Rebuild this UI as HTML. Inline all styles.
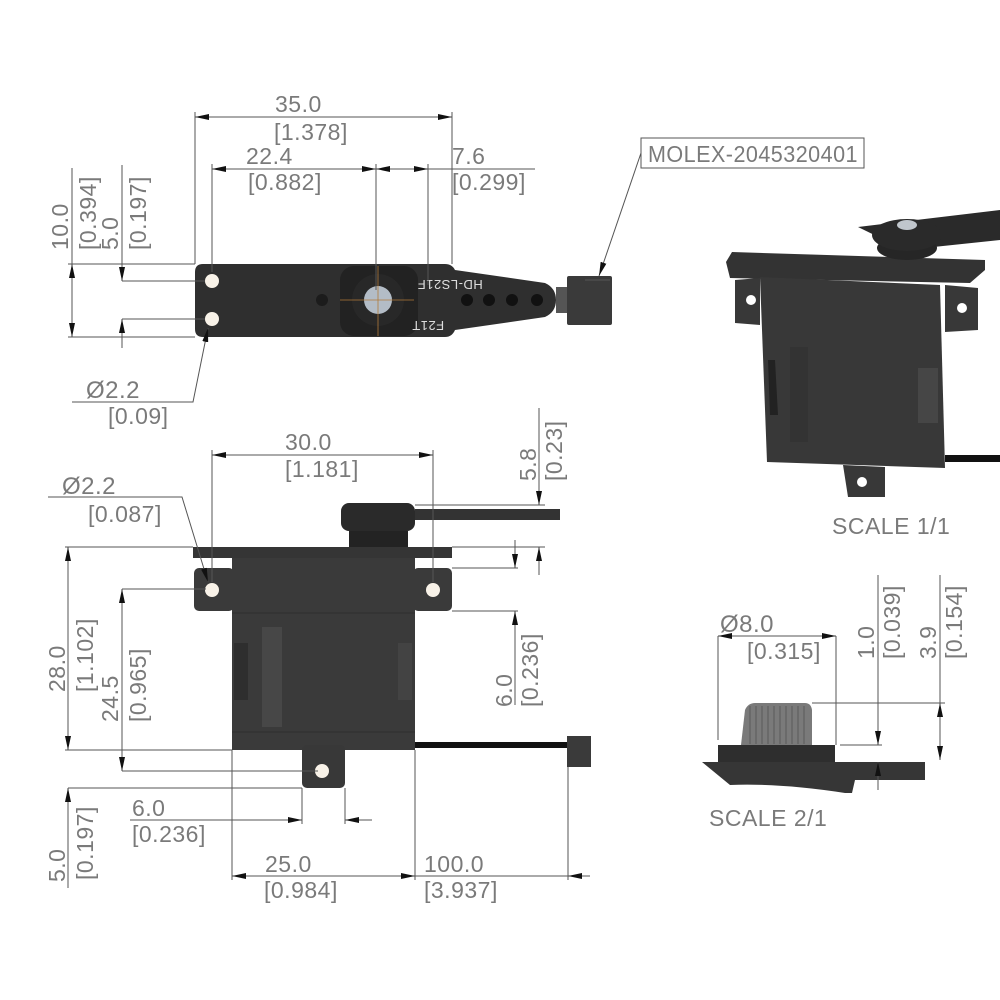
<!DOCTYPE html>
<html><head><meta charset="utf-8"><style>
html,body{margin:0;padding:0;background:#fff;}
svg{display:block;}
text{font-family:"Liberation Sans Narrow","Liberation Sans",sans-serif;font-size:23px;fill:#7a7a7a;letter-spacing:0.5px;}
.l{stroke:#555;stroke-width:1;fill:none;}
</style></head><body>
<svg width="1000" height="1000" viewBox="0 0 1000 1000" xmlns="http://www.w3.org/2000/svg">
<defs>
<marker id="a" viewBox="0 0 14 6" refX="14" refY="3" markerWidth="14" markerHeight="6" orient="auto-start-reverse" markerUnits="userSpaceOnUse"><path d="M0,0 L14,3 L0,6 Z" fill="#111"/></marker>
</defs>

<!-- ========== TOP VIEW ========== -->
<path d="M203,264 L445,264 Q452,264 455,270 L545,283 Q556,288 556,300 Q556,312 545,317 L455,330 Q452,337 445,337 L203,337 Q195,337 195,329 L195,272 Q195,264 203,264 Z" fill="#2f2f2f"/>
<rect x="340" y="266" width="78" height="70" rx="14" fill="#222"/>
<circle cx="378" cy="300" r="26" fill="#282828"/>
<circle cx="378" cy="300" r="14" fill="#b3bcc6"/>
<line x1="340" y1="300" x2="414" y2="300" stroke="#b07a3a" stroke-width="0.8"/>
<line x1="378" y1="266" x2="378" y2="336" stroke="#b07a3a" stroke-width="0.8"/>
<circle cx="212" cy="281" r="7" fill="#f8f2e8"/>
<circle cx="212" cy="319" r="7" fill="#f8f2e8"/>
<circle cx="322" cy="300" r="6" fill="#1c1c1c"/>
<circle cx="467" cy="300" r="6" fill="#111"/>
<circle cx="489" cy="300" r="6" fill="#111"/>
<circle cx="512" cy="300" r="6" fill="#111"/>
<circle cx="537" cy="300" r="6" fill="#111"/>
<text x="450" y="280" transform="rotate(180 450 280)" style="fill:#ddd;font-size:13px;letter-spacing:0.5px" text-anchor="middle">HD-LS21F</text>
<text x="428" y="329" transform="rotate(180 428 325)" style="fill:#ddd;font-size:13px;letter-spacing:0.5px" text-anchor="middle">F21T</text>
<rect x="556" y="287" width="12" height="26" fill="#555"/>
<rect x="567" y="276" width="45" height="49" rx="2" fill="#3a3a3a"/>
<line x1="585" y1="280" x2="610" y2="280" stroke="#555"/>

<!-- top dims -->
<line class="l" x1="195" y1="112" x2="195" y2="264"/>
<line class="l" x1="452" y1="112" x2="452" y2="264"/>
<line class="l" x1="195" y1="117" x2="452" y2="117" marker-start="url(#a)" marker-end="url(#a)"/>
<text x="275" y="112">35.0</text>
<text x="274" y="140">[1.378]</text>
<line class="l" x1="212" y1="164" x2="212" y2="272"/>
<line class="l" x1="376" y1="164" x2="376" y2="290"/>
<line class="l" x1="428" y1="164" x2="428" y2="285"/>
<line class="l" x1="212" y1="169" x2="376" y2="169" marker-start="url(#a)" marker-end="url(#a)"/>
<line class="l" x1="376" y1="169" x2="428" y2="169" marker-start="url(#a)" marker-end="url(#a)"/>
<line class="l" x1="428" y1="169" x2="535" y2="169"/>
<text x="246" y="164">22.4</text>
<text x="248" y="190">[0.882]</text>
<text x="452" y="164">7.6</text>
<text x="452" y="190">[0.299]</text>

<line class="l" x1="68" y1="264" x2="195" y2="264"/>
<line class="l" x1="68" y1="337" x2="195" y2="337"/>
<line class="l" x1="122" y1="281" x2="205" y2="281"/>
<line class="l" x1="122" y1="319" x2="205" y2="319"/>
<line class="l" x1="72" y1="168" x2="72" y2="264"/>
<line class="l" x1="72" y1="264" x2="72" y2="337" marker-start="url(#a)" marker-end="url(#a)"/>
<line class="l" x1="122" y1="165" x2="122" y2="281" marker-end="url(#a)"/>
<line class="l" x1="122" y1="348" x2="122" y2="319" marker-end="url(#a)"/>
<text x="68" y="250" transform="rotate(-90 68 250)">10.0</text>
<text x="96" y="250" transform="rotate(-90 96 250)">[0.394]</text>
<text x="118" y="250" transform="rotate(-90 118 250)">5.0</text>
<text x="146" y="250" transform="rotate(-90 146 250)">[0.197]</text>
<polyline class="l" points="72,402 193,402 208,328" marker-end="url(#a)"/>
<text x="86" y="398" style="font-size:24px">Ø2.2</text>
<text x="108" y="424">[0.09]</text>

<!-- molex -->
<rect x="641" y="138" width="223" height="30" fill="#fff" stroke="#555"/>
<text x="648" y="162" textLength="210" lengthAdjust="spacingAndGlyphs">MOLEX-2045320401</text>
<line class="l" x1="641" y1="153" x2="599" y2="276" marker-end="url(#a)"/>

<!-- ========== FRONT VIEW ========== -->
<rect x="341" y="503" width="74" height="28" rx="8" fill="#2a2a2a"/>
<rect x="415" y="509" width="145" height="11" fill="#333"/>
<rect x="349" y="531" width="59" height="16" fill="#232323"/>
<rect x="193" y="547" width="259" height="11" fill="#353535"/>
<rect x="194" y="568" width="40" height="43" rx="5" fill="#3a3a3a"/>
<rect x="413" y="568" width="39" height="43" rx="5" fill="#3a3a3a"/>
<rect x="232" y="558" width="183" height="192" fill="#3a3a3a"/>
<rect x="302" y="745" width="43" height="43" rx="5" fill="#383838"/>
<rect x="262" y="627" width="20" height="100" fill="#474747"/>
<rect x="234" y="643" width="14" height="57" fill="#2e2e2e"/>
<rect x="398" y="643" width="14" height="57" fill="#434343"/>
<line x1="232" y1="613" x2="415" y2="613" stroke="#2e2e2e"/>
<line x1="232" y1="732" x2="415" y2="732" stroke="#2e2e2e"/>
<circle cx="212" cy="590" r="7" fill="#f8f2e8"/>
<circle cx="433" cy="590" r="7" fill="#f8f2e8"/>
<circle cx="322" cy="771" r="7" fill="#f8f2e8"/>
<rect x="415" y="742" width="153" height="6" fill="#111"/>
<rect x="567" y="736" width="24" height="31" fill="#3a3a3a"/>

<!-- front dims -->
<line class="l" x1="212" y1="450" x2="212" y2="582"/>
<line class="l" x1="433" y1="450" x2="433" y2="582"/>
<line class="l" x1="212" y1="455" x2="433" y2="455" marker-start="url(#a)" marker-end="url(#a)"/>
<text x="285" y="450">30.0</text>
<text x="285" y="477">[1.181]</text>
<polyline class="l" points="48,497 182,497 208,582" marker-end="url(#a)"/>
<text x="62" y="494" style="font-size:24px">Ø2.2</text>
<text x="88" y="522">[0.087]</text>

<line class="l" x1="415" y1="505" x2="545" y2="505"/>
<line class="l" x1="452" y1="547" x2="545" y2="547"/>
<line class="l" x1="539" y1="408" x2="539" y2="505" marker-end="url(#a)"/>
<line class="l" x1="539" y1="575" x2="539" y2="547" marker-end="url(#a)"/>
<text x="536" y="481" transform="rotate(-90 536 481)">5.8</text>
<text x="562" y="481" transform="rotate(-90 562 481)">[0.23]</text>

<line class="l" x1="452" y1="568" x2="518" y2="568"/>
<line class="l" x1="452" y1="611" x2="518" y2="611"/>
<line class="l" x1="515" y1="540" x2="515" y2="568" marker-end="url(#a)"/>
<line class="l" x1="515" y1="705" x2="515" y2="611" marker-end="url(#a)"/>
<text x="512" y="707" transform="rotate(-90 512 707)">6.0</text>
<text x="538" y="707" transform="rotate(-90 538 707)">[0.236]</text>

<line class="l" x1="65" y1="547" x2="193" y2="547"/>
<line class="l" x1="65" y1="750" x2="232" y2="750"/>
<line class="l" x1="68" y1="547" x2="68" y2="750" marker-start="url(#a)" marker-end="url(#a)"/>
<text x="65" y="692" transform="rotate(-90 65 692)">28.0</text>
<text x="93" y="692" transform="rotate(-90 93 692)">[1.102]</text>
<line class="l" x1="122" y1="589" x2="206" y2="589"/>
<line class="l" x1="122" y1="771" x2="318" y2="771"/>
<line class="l" x1="122" y1="589" x2="122" y2="771" marker-start="url(#a)" marker-end="url(#a)"/>
<text x="118" y="722" transform="rotate(-90 118 722)">24.5</text>
<text x="146" y="722" transform="rotate(-90 146 722)">[0.965]</text>
<line class="l" x1="68" y1="788" x2="302" y2="788"/>
<line class="l" x1="68" y1="888" x2="68" y2="788" marker-end="url(#a)"/>
<text x="65" y="882" transform="rotate(-90 65 882)">5.0</text>
<text x="93" y="880" transform="rotate(-90 93 880)">[0.197]</text>

<line class="l" x1="302" y1="788" x2="302" y2="824"/>
<line class="l" x1="345" y1="788" x2="345" y2="824"/>
<line class="l" x1="130" y1="820" x2="302" y2="820" marker-end="url(#a)"/>
<line class="l" x1="372" y1="820" x2="345" y2="820" marker-end="url(#a)"/>
<text x="132" y="816">6.0</text>
<text x="132" y="842">[0.236]</text>

<line class="l" x1="232" y1="750" x2="232" y2="880"/>
<line class="l" x1="415" y1="750" x2="415" y2="880"/>
<line class="l" x1="568" y1="767" x2="568" y2="880"/>
<line class="l" x1="232" y1="876" x2="415" y2="876" marker-start="url(#a)" marker-end="url(#a)"/>
<line class="l" x1="415" y1="876" x2="568" y2="876"/>
<line class="l" x1="590" y1="876" x2="568" y2="876" marker-end="url(#a)"/>
<text x="265" y="872">25.0</text>
<text x="264" y="898">[0.984]</text>
<text x="424" y="872">100.0</text>
<text x="424" y="898">[3.937]</text>

<!-- ========== 3D VIEW ========== -->
<path d="M858,227 L1000,210 L1000,240 L905,250 Z" fill="#2a2a2a"/>
<path d="M726,262 L732,252 L985,260 L985,270 L970,283 L730,278 Z" fill="#333"/>
<path d="M735,280 L760,278 L760,325 L735,323 Z" fill="#383838"/>
<circle cx="751" cy="300" r="5" fill="#fff"/>
<path d="M945,285 L978,288 L978,330 L945,332 Z" fill="#383838"/>
<circle cx="962" cy="308" r="5" fill="#fff"/>
<path d="M760,277 L940,285 L945,468 L767,462 Z" fill="#383838"/>
<path d="M768,360 L775,360 L778,415 L770,415 Z" fill="#222"/>
<rect x="790" y="347" width="18" height="95" fill="#333"/>
<rect x="918" y="368" width="20" height="55" fill="#464646"/>
<path d="M843,465 L885,467 L885,497 L848,497 Z" fill="#383838"/>
<circle cx="862" cy="482" r="5" fill="#fff"/>
<rect x="945" y="455" width="55" height="7" fill="#111"/>
<ellipse cx="907" cy="248" rx="30" ry="12" fill="#262626"/>
<ellipse cx="907" cy="235" rx="35" ry="16" fill="#2a2a2a"/>
<ellipse cx="907" cy="225" rx="10" ry="5" fill="#c0c6cc"/>
<text x="832" y="534">SCALE 1/1</text>

<!-- ========== DETAIL ========== -->
<path d="M745,710 Q748,703 755,703 L805,703 Q811,703 812,710 L812,745 L741,745 Z" fill="#7a7a7a"/>
<g stroke="#5a5a5a" stroke-width="1">
<line x1="750" y1="706" x2="750" y2="744"/><line x1="756" y1="706" x2="756" y2="744"/><line x1="762" y1="706" x2="762" y2="744"/><line x1="768" y1="706" x2="768" y2="744"/><line x1="774" y1="706" x2="774" y2="744"/><line x1="780" y1="706" x2="780" y2="744"/><line x1="786" y1="706" x2="786" y2="744"/><line x1="792" y1="706" x2="792" y2="744"/><line x1="798" y1="706" x2="798" y2="744"/><line x1="804" y1="706" x2="804" y2="744"/>
</g>
<rect x="718" y="745" width="117" height="17" fill="#2e2e2e"/>
<path d="M702,762 L925,762 L925,780 L855,780 L852,793 L845,793 Q780,783 730,785 Z" fill="#363636"/>

<line class="l" x1="718" y1="636" x2="718" y2="740"/>
<line class="l" x1="836" y1="636" x2="836" y2="745"/>
<line class="l" x1="718" y1="636" x2="836" y2="636" marker-start="url(#a)" marker-end="url(#a)"/>
<text x="720" y="632" style="font-size:24px">Ø8.0</text>
<text x="747" y="659">[0.315]</text>
<line class="l" x1="812" y1="703" x2="945" y2="703"/>
<line class="l" x1="840" y1="745" x2="882" y2="745"/>
<line class="l" x1="878" y1="575" x2="878" y2="745" marker-end="url(#a)"/>
<line class="l" x1="878" y1="790" x2="878" y2="762" marker-end="url(#a)"/>
<line class="l" x1="940" y1="575" x2="940" y2="703"/>
<line class="l" x1="940" y1="703" x2="940" y2="760" marker-start="url(#a)" marker-end="url(#a)"/>
<text x="874" y="659" transform="rotate(-90 874 659)">1.0</text>
<text x="900" y="659" transform="rotate(-90 900 659)">[0.039]</text>
<text x="936" y="659" transform="rotate(-90 936 659)">3.9</text>
<text x="962" y="659" transform="rotate(-90 962 659)">[0.154]</text>
<text x="709" y="826">SCALE 2/1</text>
</svg>
</body></html>
